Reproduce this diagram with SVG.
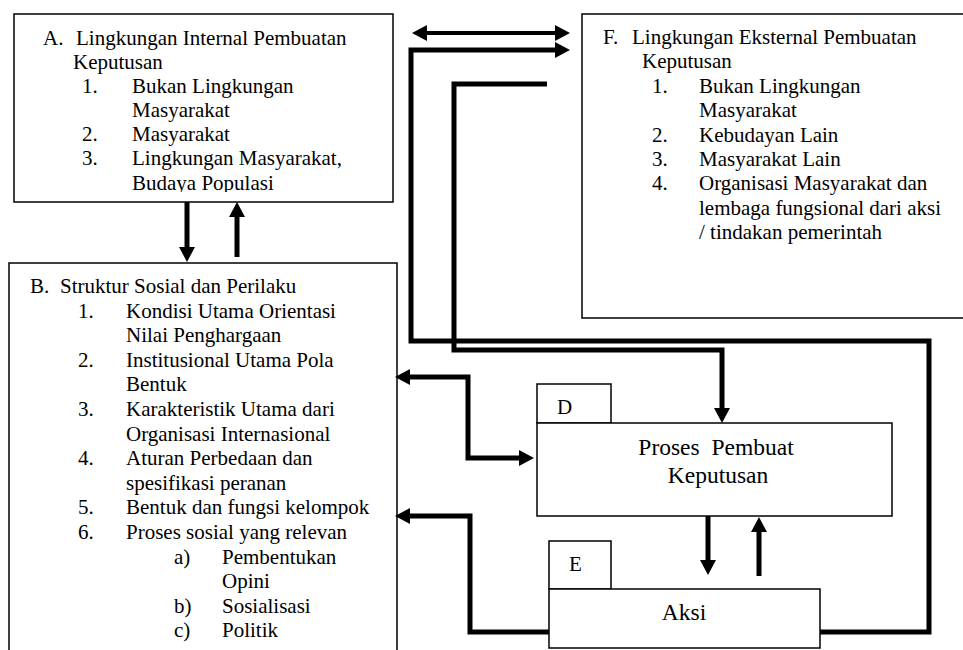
<svg xmlns="http://www.w3.org/2000/svg" width="963" height="650" viewBox="0 0 963 650">
<style>
text{font-family:"Liberation Serif","Times New Roman",serif;fill:#000;font-size:21px}
.box{fill:#fff;stroke:#000;stroke-width:1.5}
.big{font-size:23.5px}
.c{fill:none;stroke:#000;stroke-width:5;stroke-linejoin:miter}
.thin{stroke-width:4}
</style>
<defs>
<marker id="ah" markerUnits="userSpaceOnUse" markerWidth="16" markerHeight="16" refX="5" refY="8" orient="auto-start-reverse" viewBox="0 0 16 16">
<path d="M0,0 L15,8 L0,16 z" fill="#000"/>
</marker>
<clipPath id="clipA"><rect x="14" y="14" width="379" height="178"/></clipPath>
</defs>
<rect width="963" height="650" fill="#fff"/>

<g id="nodeA">
<rect class="box" x="14" y="14" width="379" height="188"/>
<g clip-path="url(#clipA)">
<text x="43" y="45">A.</text><text x="76" y="45">Lingkungan Internal Pembuatan</text>
<text x="73" y="69">Keputusan</text>
<text x="82" y="93">1.</text><text x="132" y="93">Bukan Lingkungan</text>
<text x="132" y="117">Masyarakat</text>
<text x="82" y="141">2.</text><text x="132" y="141">Masyarakat</text>
<text x="82" y="165">3.</text><text x="132" y="165">Lingkungan Masyarakat,</text>
<text x="132" y="190">Budaya Populasi</text>
</g>
</g>

<g id="nodeB">
<rect class="box" x="9" y="263" width="388" height="400"/>
<text x="30" y="293">B.</text><text x="60" y="293">Struktur Sosial dan Perilaku</text>
<text x="78" y="317.6">1.</text><text x="126" y="317.6">Kondisi Utama Orientasi</text>
<text x="126" y="342.2">Nilai Penghargaan</text>
<text x="78" y="366.8">2.</text><text x="126" y="366.8">Institusional Utama Pola</text>
<text x="126" y="391.4">Bentuk</text>
<text x="78" y="416">3.</text><text x="126" y="416">Karakteristik Utama dari</text>
<text x="126" y="440.6">Organisasi Internasional</text>
<text x="78" y="465.2">4.</text><text x="126" y="465.2">Aturan Perbedaan dan</text>
<text x="126" y="489.8">spesifikasi peranan</text>
<text x="78" y="514.4">5.</text><text x="126" y="514.4">Bentuk dan fungsi kelompok</text>
<text x="78" y="539">6.</text><text x="126" y="539">Proses sosial yang relevan</text>
<text x="174" y="563.6">a)</text><text x="222" y="563.6">Pembentukan</text>
<text x="222" y="588.2">Opini</text>
<text x="174" y="612.8">b)</text><text x="222" y="612.8">Sosialisasi</text>
<text x="174" y="637.4">c)</text><text x="222" y="637.4">Politik</text>
</g>

<g id="nodeF">
<rect class="box" x="582" y="14" width="400" height="304"/>
<text x="603" y="44">F.</text><text x="632" y="44">Lingkungan Eksternal Pembuatan</text>
<text x="642" y="68.4">Keputusan</text>
<text x="652" y="92.8">1.</text><text x="699" y="92.8">Bukan Lingkungan</text>
<text x="699" y="117.2">Masyarakat</text>
<text x="652" y="141.6">2.</text><text x="699" y="141.6">Kebudayan Lain</text>
<text x="652" y="166">3.</text><text x="699" y="166">Masyarakat Lain</text>
<text x="652" y="190.4">4.</text><text x="699" y="190.4">Organisasi Masyarakat dan</text>
<text x="699" y="214.8">lembaga fungsional dari aksi</text>
<text x="699" y="239.2">/ tindakan pemerintah</text>
</g>

<g id="nodeD">
<rect class="box" x="537" y="384" width="74" height="39"/>
<text x="557" y="414">D</text>
<rect class="box" x="537" y="423" width="355" height="93"/>
<text class="big" x="716" y="455" text-anchor="middle" xml:space="preserve">Proses  Pembuat</text>
<text class="big" x="718" y="483" text-anchor="middle">Keputusan</text>
</g>

<g id="nodeE">
<rect class="box" x="549" y="541" width="62" height="48"/>
<text x="569" y="571">E</text>
<rect class="box" x="549" y="589" width="271" height="59"/>
<text class="big" x="684" y="620" text-anchor="middle">Aksi</text>
</g>

<g id="connectors">
<path class="c thin" d="M422,33 L560,33" marker-start="url(#ah)" marker-end="url(#ah)"/>
<path class="c" d="M820,632 L929,632 L929,341 L411,341 L411,50 L560,50" marker-end="url(#ah)"/>
<path class="c" d="M547,84 L454,84 L454,350 L722,350 L722,413" marker-end="url(#ah)"/>
<path class="c" d="M405,377 L468,377 L468,458 L524,458" marker-start="url(#ah)" marker-end="url(#ah)"/>
<path class="c" d="M549,632 L470,632 L470,516 L405,516" marker-end="url(#ah)"/>
<path class="c" d="M187,202 L187,252" marker-end="url(#ah)"/>
<path class="c" d="M237,257 L237,212" marker-end="url(#ah)"/>
<path class="c" d="M708,516 L708,565" marker-end="url(#ah)"/>
<path class="c" d="M759,576 L759,527" marker-end="url(#ah)"/>
</g>
</svg>
